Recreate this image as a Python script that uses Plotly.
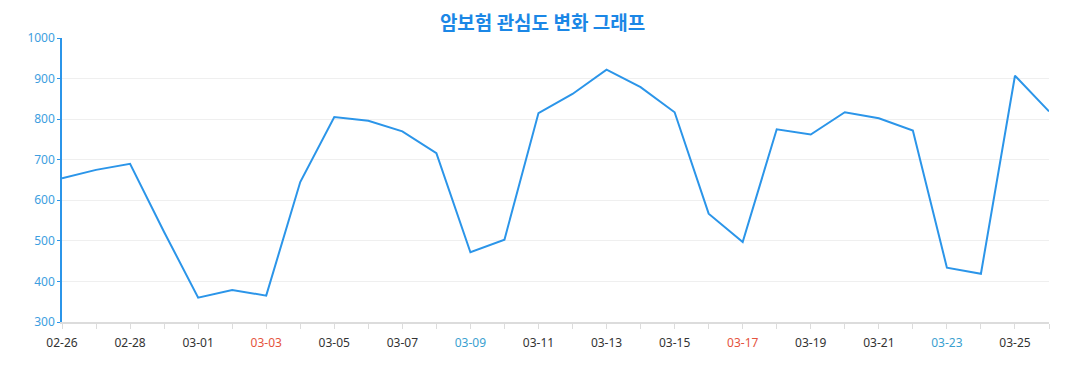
import plotly.graph_objects as go

dates = ["02-26", "02-27", "02-28", "02-29", "03-01", "03-02", "03-03", "03-04", "03-05", "03-06",
         "03-07", "03-08", "03-09", "03-10", "03-11", "03-12", "03-13", "03-14", "03-15", "03-16",
         "03-17", "03-18", "03-19", "03-20", "03-21", "03-22", "03-23", "03-24", "03-25", "03-26"]
values = [654, 675, 690, 522, 360, 379, 365, 645, 805, 796,
          770, 716, 472, 503, 815, 862, 922, 879, 817, 567,
          497, 775, 762, 817, 802, 772, 434, 419, 907, 819]
sundays = ["03-03", "03-17"]
saturdays = ["03-09", "03-23"]
y_ticks = [300, 400, 500, 600, 700, 800, 900, 1000]

LINE = "#2b95e9"
RED = "#e5533d"
SATBLUE = "#3a9fd0"

x_idx = list(range(len(dates)))
ticktext = []
for i, d in enumerate(dates):
    if i in (1, 3) or (i > 4 and i % 2 == 1):
        ticktext.append("")
    elif d in sundays:
        ticktext.append(f'<span style="color:{RED}">{d}</span>')
    elif d in saturdays:
        ticktext.append(f'<span style="color:{SATBLUE}">{d}</span>')
    else:
        ticktext.append(d)

fig = go.Figure()
fig.add_trace(go.Scatter(x=x_idx, y=values, mode="lines",
                         line=dict(color=LINE, width=2), hoverinfo="y"))

fig.update_layout(
    width=1077, height=390,
    margin=dict(l=54, r=36, t=30, b=76),
    paper_bgcolor="white", plot_bgcolor="white",
    showlegend=False,
    font=dict(family="Noto Sans, Open Sans, sans-serif", size=12),
    title=dict(text="<b>암보험 관심도 변화 그래프</b>", x=0.4963, xanchor="center",
               y=0.96, yanchor="middle",
               font=dict(family="Noto Sans CJK KR", size=19, color="#1b87e6")),
)
fig.update_xaxes(range=[0, len(dates) - 1], tickmode="array", tickvals=x_idx, ticktext=ticktext,
                 showgrid=False, zeroline=False, showline=True, linecolor="#dcdcdc", linewidth=2,
                 ticks="outside", ticklen=5, tickcolor="#dcdcdc", tickwidth=1,
                 ticklabelstandoff=4,
                 tickfont=dict(color="#333333", size=12))
fig.update_yaxes(range=[300, 1000], tickvals=y_ticks, showgrid=True, gridcolor="#efefef",
                 zeroline=False, showline=True, linecolor=LINE, linewidth=1.5,
                 ticks="outside", ticklen=3, tickcolor=LINE,
                 tickfont=dict(color="#3d9ee0", size=12))

fig.write_html("out.html")
